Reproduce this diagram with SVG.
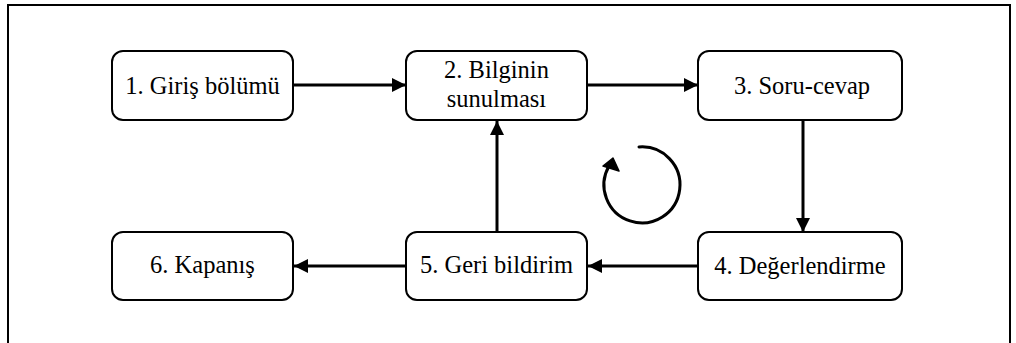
<svg xmlns="http://www.w3.org/2000/svg" width="1016" height="343" viewBox="0 0 1016 343">
  <style>
    .box { fill: #fff; stroke: #000; stroke-width: 2; }
    .edge { stroke: #000; stroke-width: 3; fill: none; marker-end: url(#head); }
    .lbl { font-family: 'Liberation Serif', Tinos, 'Times New Roman', Times, 'DejaVu Serif', serif; font-size: 24.5px; fill: #000; text-anchor: middle; }
  </style>
  <defs>
    <marker id="head" viewBox="0 0 14 14" refX="14" refY="7" markerWidth="14" markerHeight="14" markerUnits="userSpaceOnUse" orient="auto">
      <path d="M0,0 L14,7 L0,14 Z" fill="#000"/>
    </marker>
  </defs>

  <rect width="1016" height="343" fill="#fff"/>
  <!-- outer frame (open at the bottom) -->
  <path d="M8,350 V5 H1010 V350" fill="none" stroke="#000" stroke-width="2"/>

  <g id="connectors">
    <line class="edge" x1="294" y1="85" x2="406" y2="85"/>
    <line class="edge" x1="588" y1="85" x2="698" y2="85"/>
    <line class="edge" x1="803" y1="121" x2="803" y2="232"/>
    <line class="edge" x1="698" y1="266" x2="588" y2="266"/>
    <line class="edge" x1="406" y1="266" x2="294" y2="266"/>
    <line class="edge" x1="497" y1="231" x2="497" y2="121"/>
  </g>

  <g id="n1">
    <rect class="box" x="112" y="51" width="181" height="69" rx="11"/>
    <text class="lbl" x="202.5" y="94">1. Giriş bölümü</text>
  </g>
  <g id="n2">
    <rect class="box" x="406" y="51" width="181" height="69" rx="11"/>
    <text class="lbl" x="496.5" y="78">2. Bilginin</text>
    <text class="lbl" x="496.5" y="107">sunulması</text>
  </g>
  <g id="n3">
    <rect class="box" x="698" y="51" width="204" height="69" rx="11"/>
    <text class="lbl" x="802" y="94">3. Soru-cevap</text>
  </g>
  <g id="n4">
    <rect class="box" x="698" y="232" width="204" height="68" rx="11"/>
    <text class="lbl" x="800" y="274">4. Değerlendirme</text>
  </g>
  <g id="n5">
    <rect class="box" x="406" y="232" width="181" height="68" rx="11"/>
    <text class="lbl" x="496.5" y="273">5. Geri bildirim</text>
  </g>
  <g id="n6">
    <rect class="box" x="112" y="232" width="181" height="68" rx="11"/>
    <text class="lbl" x="202.5" y="273">6. Kapanış</text>
  </g>

  <!-- cycle symbol -->
  <g id="cycle">
    <path d="M639,147 A38,38 0 1 1 609,166" fill="none" stroke="#000" stroke-width="3" stroke-linecap="round"/>
    <path d="M613,158 L603,166 L619,171 Z" fill="#000" stroke="#000" stroke-width="1.5" stroke-linejoin="round"/>
  </g>
</svg>
